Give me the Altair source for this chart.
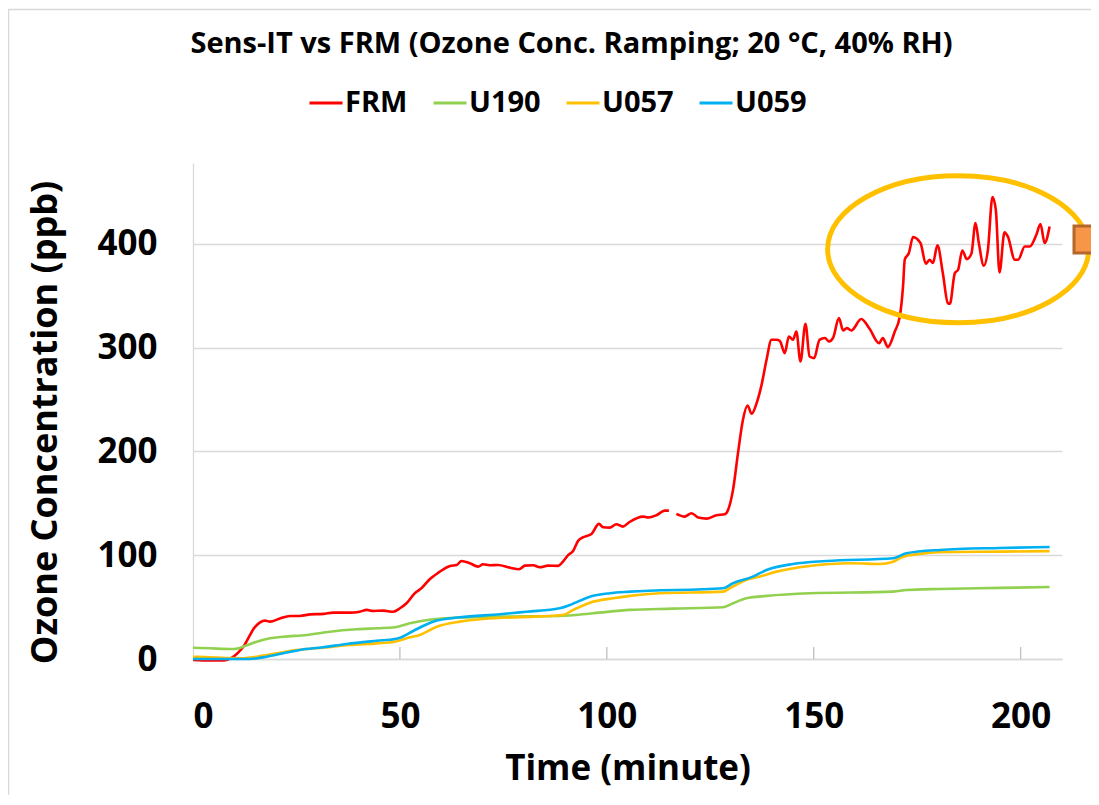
import altair as alt
import pandas as pd

# ---------------- data ----------------
SERIES = ["FRM", "U190", "U057", "U059"]
COLORS = ["#FF0000", "#92D050", "#FFC000", "#00B0F0"]

# FRM has a short gap around t = 116 min -> two segments
FRM_T1 = [0, 4, 7.5, 9.3, 12.2, 15.0, 17.4, 18.6, 21.0, 23.4, 25.8, 28.3, 31.5, 33.9,
          37.9, 40.3, 42.0, 43.5, 46.0, 48.4, 50.0, 51.6, 53.6, 55.2, 57.2, 59.3, 62.1,
          63.7, 64.9, 66.9, 68.9, 70.1, 71.7, 73.7, 76.6, 78.8, 80.2, 82.2, 83.8, 85.8,
          88.2, 89.4, 90.7, 91.9, 93.1, 94.7, 96.3, 98.1, 99.1, 100.7, 102.3, 103.9,
          105.4, 108.8, 110.0, 112.0, 114.0, 115.0]
FRM_V1 = [-1, -1.5, -1.5, 1, 12, 31, 37, 36, 39, 41.5, 41.5, 43, 43.5, 44.7,
          44.7, 45.6, 47.3, 46.3, 46.6, 45.6, 48.9, 53.7, 63.4, 68.2, 76.9, 83.2, 89.7,
          90.6, 94.5, 92.3, 89, 91.3, 90.4, 90.6, 88, 86.5, 90, 90.4, 88.4, 90,
          89.7, 93.8, 100.3, 104.4, 114.1, 118, 120.5, 130.2, 127, 126.6, 129.9, 127.6,
          131.8, 137.2, 136.3, 138.6, 143, 143]
FRM_T2 = [116.8, 118.8, 120.5, 122.1, 124.1, 126.5, 128.5, 129.3, 130.5, 131.7, 132.9,
          134.0, 135.0, 136.2, 137.4, 138.6, 139.8, 141.0, 141.8, 143.0, 144.0, 145.0,
          145.8, 146.8, 148.0, 149.0, 150.1, 151.4, 152.7, 153.7, 154.7, 156.1, 157.1,
          158.0, 159.1, 161.5, 163.5, 165.8, 166.7, 167.9, 169.6, 170.8, 171.6, 172.0,
          173.0, 174.0, 175.8, 177.1, 178.0, 178.8, 179.9, 181.2, 182.4, 182.9, 184.1,
          184.9, 185.9, 187.0, 188.1, 189.1, 189.9, 191.1, 192.1, 193.2, 194.0, 194.9,
          196.1, 196.9, 198.6, 199.4, 201.0, 202.2, 203.8, 204.8, 205.8, 207.0]
FRM_V2 = [139.8, 137.2, 140.5, 136.3, 135.3, 138.6, 139.5, 143.7, 163, 198.4, 230.5,
          244.3, 236.3, 246.6, 264.2, 288.3, 307.6, 307.6, 306.6, 294.8, 310.8, 307.6,
          315.6, 286.7, 323, 291.5, 290, 307.6, 309.3, 306, 309.8, 328.5, 316.6,
          318.9, 316.6, 327.6, 318.2, 304.4, 309.3, 300.6, 315.6, 330, 360, 384.8,
          391.2, 406.6, 400.9, 380.9, 384.8, 381.6, 398.6, 371.9, 343, 342.3, 371.9,
          375.1, 393.7, 385.4, 390.5, 420.1, 400.9, 379, 394.4, 445.2, 433, 372.5,
          411.1, 407.2, 384.8, 384.8, 397.6, 397.6, 408.9, 419.2, 400.9, 416.9]

U190_T = [0, 4.1, 9.7, 12.6, 15.4, 18.6, 21.8, 27.5, 33.1, 39.5, 44.4, 48.8, 52.4, 54.8,
          62.1, 74.2, 88.6, 96.7, 105.6, 116, 128.1, 130.5, 133.7, 138.6, 149, 169.2,
          172.4, 180.4, 195, 207]
U190_V = [10.9, 10.3, 9.6, 12.5, 16.7, 20, 21.5, 23.1, 26.3, 28.6, 29.6, 30.6, 34.4, 36.4,
          39.5, 40.8, 41.5, 44.1, 47.3, 48.5, 49.9, 53.7, 58.5, 60.8, 63.4, 64.9,
          66.5, 67.5, 68.5, 69.4]

U057_T = [0, 5.7, 11.4, 15.4, 20.2, 25.0, 31.5, 37.9, 44.4, 48.8, 52.4, 54.8, 58.9, 64.5,
          70.1, 82.2, 89.4, 91.9, 95.9, 101.5, 105.6, 112.8, 128.1, 129.7, 133.7, 137,
          141, 149, 153.1, 159.5, 165.9, 169.2, 171.6, 175.6, 180.4, 195, 207]
U057_V = [2.2, 1.3, 0.7, 2.2, 5.5, 8.7, 10.9, 13.5, 15.1, 16.7, 20.9, 23.1, 31.1, 36,
          38.6, 40.8, 42.4, 47.3, 54.3, 58.5, 60.8, 63.4, 64.9, 68.2, 76.2, 79.4,
          84.2, 89.7, 91.3, 92.3, 91.6, 93.8, 98.6, 101.3, 102.9, 103.5, 104]

U059_T = [0, 13.8, 17.8, 21.8, 25.8, 31.5, 37.1, 44.4, 48.8, 50, 53.2, 58, 64.5, 74.2,
          80.6, 88.6, 91.1, 95.9, 100.7, 105.6, 128.1, 130.5, 135.3, 138.6, 145, 153.1,
          169.2, 172.4, 180.4, 195, 207]
U059_V = [0, 0, 2.2, 5.5, 8.7, 11.3, 14.5, 17.6, 19.3, 20.5, 27, 36, 40.2, 43.1,
          45.6, 48.9, 52.1, 60.1, 63.4, 64.9, 68.2, 73, 79.4, 85.8, 91.6, 94.5,
          97.1, 101.9, 105.1, 107, 108]

X_TICKS = [0, 50, 100, 150, 200]
X_INNER_TICKS = [50, 100, 150, 200]
Y_TICKS = [0, 100, 200, 300, 400]

# highlighted region (ellipse annotation), data coordinates
ELLIPSE_T = [184.9]
ELLIPSE_V = [394.9]

TITLE = "Sens-IT vs FRM (Ozone Conc. Ramping; 20 \u00b0C, 40% RH)"
FONT = "Open Sans"

# ---------------- build table ----------------
rows = []
for t, v in zip(FRM_T1, FRM_V1):
    rows.append({"t": t, "v": v, "series": "FRM", "seg": "FRM-1"})
for t, v in zip(FRM_T2, FRM_V2):
    rows.append({"t": t, "v": v, "series": "FRM", "seg": "FRM-2"})
for name, ts, vs in [("U190", U190_T, U190_V), ("U057", U057_T, U057_V), ("U059", U059_T, U059_V)]:
    for t, v in zip(ts, vs):
        rows.append({"t": t, "v": v, "series": name, "seg": name})
df = pd.DataFrame(rows)

W, H = 869, 496
xs = alt.Scale(domain=[0, 210], nice=False, zero=False)
ys = alt.Scale(domain=[0, 478], nice=False)

lines = alt.Chart(df).mark_line(strokeWidth=2.6, interpolate="monotone").encode(
    x=alt.X("t:Q", scale=xs, title="Time (minute)",
            axis=alt.Axis(values=X_TICKS, grid=False, ticks=False, domainColor="#d9d9d9",
                          domainWidth=1.5, labelPadding=40, labelFontSize=35,
                          titleFontSize=35, titleY=120, titleBaseline="alphabetic")),
    y=alt.Y("v:Q", scale=ys, title="Ozone Concentration (ppb)",
            axis=alt.Axis(values=Y_TICKS, ticks=False, domainColor="#d9d9d9",
                          domainWidth=1.3, gridColor="#d9d9d9", gridWidth=1.3,
                          labelPadding=36, labelFontSize=35, titleFontSize=36,
                          titleX=-129, titleY=259, titleBaseline="bottom")),
    color=alt.Color("series:N", scale=alt.Scale(domain=SERIES, range=COLORS),
                    sort=SERIES,
                    legend=alt.Legend(title=None, orient="none", direction="horizontal",
                                      legendX=115, legendY=-78, symbolType="stroke",
                                      symbolStrokeWidth=3, symbolSize=1089,
                                      labelFontSize=29, labelFont=FONT,
                                      labelFontWeight="bold", labelColor="black",
                                      labelOffset=1, columnPadding=19)),
    detail="seg:N",
    order=alt.Order("t:Q"),
)

tick_df = pd.DataFrame({"t": X_INNER_TICKS})
inner_ticks = alt.Chart(tick_df).mark_rule(color="#bfbfbf", strokeWidth=1.3).encode(
    x=alt.X("t:Q", scale=xs), y=alt.value(H), y2=alt.value(H - 12)
)

k = 0.5523
ry = 73.5 / 130.5
ellipse_path = (
    f"M -1 0 C -1 {-k*ry:.4f} {-k:.4f} {-ry:.4f} 0 {-ry:.4f} "
    f"C {k:.4f} {-ry:.4f} 1 {-k*ry:.4f} 1 0 "
    f"C 1 {k*ry:.4f} {k:.4f} {ry:.4f} 0 {ry:.4f} "
    f"C {-k:.4f} {ry:.4f} -1 {k*ry:.4f} -1 0 Z"
)
ell_df = pd.DataFrame({"t": ELLIPSE_T, "v": ELLIPSE_V})
ellipse = alt.Chart(ell_df).mark_point(
    shape=ellipse_path, size=261 * 261, filled=False, stroke="#FFC000",
    strokeWidth=5, opacity=1
).encode(x=alt.X("t:Q", scale=xs), y=alt.Y("v:Q", scale=ys))

square = alt.Chart(ell_df).mark_rect(fill="#F79646", stroke="#B5662B", strokeWidth=3).encode(
    x=alt.value(881), x2=alt.value(920), y=alt.value(63), y2=alt.value(90)
)

border_top = alt.Chart(ell_df).mark_rule(color="#d9d9d9", strokeWidth=1.5).encode(
    x=alt.value(-185), x2=alt.value(W + 40), y=alt.value(-153.5)
)
border_left = alt.Chart(ell_df).mark_rule(color="#d9d9d9", strokeWidth=1.5).encode(
    x=alt.value(-184.5), y=alt.value(-154), y2=alt.value(H + 160)
)

chart = alt.layer(border_top, border_left, inner_ticks, lines, ellipse, square).properties(
    width=W, height=H,
    title=alt.TitleParams(TITLE, font=FONT, fontSize=29, fontWeight="bold", color="black",
                          anchor="middle", frame="group", dx=-56, offset=0, dy=51),
    autosize=alt.AutoSizeParams(type="none"),
    padding={"left": 185, "top": 155, "right": 29, "bottom": 136},
).configure_view(stroke=None).configure_axis(
    labelFont=FONT, titleFont=FONT, labelFontWeight="bold", titleFontWeight="bold",
    labelColor="black", titleColor="black"
)

chart.save("out.html", embed_options={"renderer": "svg", "actions": False})
